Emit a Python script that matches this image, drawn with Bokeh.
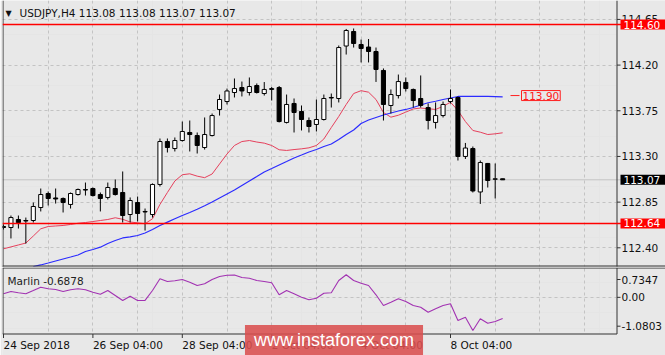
from bokeh.plotting import figure
from bokeh.layouts import column
from bokeh.models import (FixedTicker, Label, Span, Range1d, ColumnDataSource, Grid,
                          BoxAnnotation)
from bokeh.core.properties import value
from bokeh.embed import file_html
from bokeh.resources import INLINE

# ---------------- data ----------------
symbol = "USDJPY,H4"
header_ohlc = [113.08, 113.08, 113.07, 113.07]

opens = [112.610, 112.600, 112.679, 112.669, 112.669, 112.797, 112.935, 112.891, 112.886, 112.827,
         112.925, 112.974, 112.984, 112.925, 112.896, 112.984, 112.945, 112.728, 112.846, 112.758,
         112.728, 113.024, 113.447, 113.378, 113.457, 113.536, 113.506, 113.388, 113.506, 113.763,
         113.841, 113.930, 113.979, 113.930, 113.999, 113.920, 113.960, 113.979, 113.635, 113.822,
         113.743, 113.654, 113.615, 113.664, 113.881, 113.871, 114.388, 114.531, 114.403, 114.378,
         114.334, 114.147, 113.802, 113.900, 114.029, 113.960, 113.871, 113.782, 113.635, 113.703,
         113.841, 113.881, 113.300, 113.378, 112.950, 113.231, 113.075, 113.080]
highs = [112.630, 112.718, 112.718, 112.698, 112.846, 112.984, 112.955, 112.984, 112.896, 112.945,
         112.984, 113.043, 112.994, 112.945, 113.043, 113.073, 113.152, 112.896, 112.905, 112.787,
         113.034, 113.477, 113.477, 113.487, 113.644, 113.654, 113.536, 113.684, 113.723, 113.910,
         113.969, 114.068, 114.038, 114.078, 114.019, 114.033, 113.984, 113.994, 113.910, 113.871,
         113.802, 113.684, 113.861, 113.910, 113.920, 114.393, 114.556, 114.561, 114.452, 114.457,
         114.373, 114.167, 113.960, 114.107, 114.078, 113.969, 114.098, 113.822, 113.832, 113.841,
         113.960, 113.891, 113.433, 113.398, 113.260, 113.236, 113.231, 113.080]
lows = [112.580, 112.492, 112.590, 112.442, 112.649, 112.758, 112.817, 112.836, 112.748, 112.787,
        112.915, 112.915, 112.905, 112.758, 112.876, 112.915, 112.649, 112.649, 112.659, 112.570,
        112.698, 113.004, 113.339, 113.349, 113.447, 113.349, 113.329, 113.368, 113.497, 113.703,
        113.812, 113.881, 113.891, 113.900, 113.920, 113.900, 113.851, 113.635, 113.625, 113.536,
        113.556, 113.536, 113.546, 113.654, 113.782, 113.832, 114.304, 114.373, 114.226, 114.226,
        114.034, 113.654, 113.723, 113.871, 113.940, 113.782, 113.782, 113.566, 113.575, 113.684,
        113.822, 113.260, 113.275, 112.945, 112.832, 112.994, 112.886, 113.070]
closes = [112.600, 112.698, 112.649, 112.664, 112.807, 112.925, 112.886, 112.881, 112.846, 112.935,
          112.974, 112.969, 112.915, 112.886, 112.994, 112.925, 112.718, 112.866, 112.738, 112.753,
          113.024, 113.447, 113.388, 113.457, 113.546, 113.516, 113.408, 113.516, 113.703, 113.861,
          113.945, 113.969, 113.945, 113.989, 113.930, 113.960, 113.969, 113.644, 113.812, 113.733,
          113.664, 113.595, 113.664, 113.871, 113.876, 114.373, 114.541, 114.413, 114.364, 114.334,
          114.157, 113.812, 113.910, 114.038, 113.969, 113.851, 113.802, 113.654, 113.703, 113.812,
          113.871, 113.300, 113.383, 112.960, 113.240, 113.063, 113.080, 113.070]

ma_fast = [112.390, 112.409, 112.428, 112.447, 112.516, 112.587, 112.610, 112.615, 112.620, 112.630,
           112.642, 112.649, 112.659, 112.669, 112.679, 112.696, 112.681, 112.654, 112.646, 112.637,
           112.686, 112.827, 112.945, 113.058, 113.120, 113.129, 113.106, 113.091, 113.127, 113.226,
           113.324, 113.408, 113.447, 113.457, 113.442, 113.431, 113.408, 113.366, 113.359, 113.368,
           113.375, 113.385, 113.408, 113.472, 113.585, 113.694, 113.812, 113.920, 113.948, 113.933,
           113.861, 113.733, 113.687, 113.706, 113.737, 113.768, 113.777, 113.770, 113.763, 113.794,
           113.834, 113.753, 113.644, 113.556, 113.539, 113.516, 113.523, 113.533]
ma_slow_start = 4
ma_slow = [112.216, 112.231, 112.250, 112.270, 112.290, 112.309,
           112.329, 112.364, 112.383, 112.406, 112.442, 112.472, 112.497, 112.508, 112.521, 112.546,
           112.580, 112.620, 112.653, 112.686, 112.718, 112.748, 112.780, 112.814, 112.851, 112.891,
           112.930, 112.969, 113.014, 113.058, 113.102, 113.147, 113.181, 113.216, 113.250, 113.285,
           113.314, 113.344, 113.368, 113.398, 113.423, 113.467, 113.516, 113.561, 113.625, 113.659,
           113.684, 113.708, 113.728, 113.748, 113.763, 113.782, 113.807, 113.829, 113.844, 113.861,
           113.876, 113.891, 113.891, 113.891, 113.891, 113.891, 113.889, 113.886]

marlin = [0.116, 0.190, 0.148, 0.116, 0.223, 0.331, 0.279, 0.256, 0.190, 0.246,
          0.279, 0.246, 0.168, 0.103, 0.223, 0.060, -0.103, 0.037, -0.103, -0.098,
          0.223, 0.604, 0.516, 0.539, 0.582, 0.494, 0.386, 0.441, 0.582, 0.679,
          0.720, 0.728, 0.647, 0.624, 0.549, 0.516, 0.474, 0.083, 0.223, 0.116,
          0.005, -0.080, -0.028, 0.135, 0.148, 0.549, 0.7347, 0.549, 0.461, 0.386,
          0.083, -0.266, -0.158, -0.047, -0.135, -0.266, -0.321, -0.484, -0.373, -0.266,
          -0.210, -0.754, -0.647, -1.0803, -0.699, -0.842, -0.787, -0.6878]

price_ticks = [112.40, 112.85, 113.30, 113.75, 114.20, 114.65]
levels = [114.60, 112.64]
current_price = 113.07
target_price = 113.90
marlin_tick_labels = ["0.7347", "0.00", "-1.0803"]
time_labels = ["24 Sep 2018", "26 Sep 04:00", "28 Sep 04:00", "2 Oct 04:00", "4 Oct 04:00", "8 Oct 04:00"]
time_label_bars = [0, 12, 24, 36, 48, 60]
grid_bars = list(range(6, 82, 6))

# ---------------- geometry helpers (pixel -> data) ----------------
BG = "#e8e8e8"
GRID = "#c3c3c3"
AX = "#333333"
FONT = "DejaVu Sans"
FS = "10.5px"
BAR_PX = 7.45
X0_PX = 3.0


def px2x(px):
    return (px - X0_PX) / BAR_PX


PPX = 0.009852


def py2p(py):
    return 114.60 - (py - 24) * PPX


MPX = 0.032585


def py2m(py):
    return 0.7347 - (py - 274.3) * MPX


XR = Range1d(px2x(2), px2x(665))
AXIS_X = px2x(616.5)
n = len(opens)
xs = list(range(n))


def base_fig(h, yr):
    return figure(width=665, height=h, x_range=XR, y_range=yr,
                  x_axis_location=None, y_axis_location=None, toolbar_location=None,
                  output_backend="svg", background_fill_color=BG, border_fill_color=BG,
                  min_border_left=2, min_border_right=0, min_border_top=0, min_border_bottom=0,
                  outline_line_color=None)


def txt(p, x, y, t, color="#111111", align="left", size=FS):
    p.text(x=x, y=y, text=t, text_font=value(FONT), text_font_size=value(size),
           text_color=color, text_align=align, text_baseline="middle")


# ---------------- main price panel ----------------
p1 = base_fig(267, Range1d(py2p(267), py2p(0)))
p1.add_layout(Grid(dimension=0, ticker=FixedTicker(ticks=grid_bars), grid_line_color=GRID,
                   grid_line_dash="3 3"))
p1.add_layout(Grid(dimension=1, ticker=FixedTicker(ticks=price_ticks), grid_line_color=GRID,
                   grid_line_dash="3 3"))
p1.add_layout(BoxAnnotation(left=px2x(616), fill_color=BG, fill_alpha=1, line_alpha=0,
                            level="underlay"))
p1.add_layout(Span(location=current_price, dimension="width", line_color="#c4c4c4",
                   line_width=1, level="underlay"))

src = ColumnDataSource(dict(
    x=xs, o=opens, h=highs, l=lows, c=closes,
    top=[max(a, b) for a, b in zip(opens, closes)],
    bottom=[min(a, b) for a, b in zip(opens, closes)],
    fill=["white" if c >= o else "black" for o, c in zip(opens, closes)],
))
p1.line(xs, ma_fast, line_color="#e5405c", line_width=1)
slow_x = list(range(ma_slow_start, ma_slow_start + len(ma_slow)))
p1.line(slow_x, ma_slow, line_color="#2b2bff", line_width=1.2)
p1.segment(x0="x", y0="l", x1="x", y1="h", line_color="black", line_width=1, source=src)
p1.vbar(x="x", width=0.55, top="top", bottom="bottom", fill_color="fill",
        line_color="black", line_width=1, source=src)

# frame lines and right price scale
p1.add_layout(Span(location=px2x(2.5), dimension="height", line_color=AX, line_width=1))
p1.add_layout(Span(location=AXIS_X, dimension="height", line_color=AX, line_width=1))
p1.add_layout(Span(location=py2p(265.5), dimension="width", line_color=AX, line_width=1))
p1.add_layout(Span(location=py2p(266.5), dimension="width", line_color="#8a8a8a", line_width=1))
p1.segment(x0=[AXIS_X] * len(price_ticks), x1=[px2x(620)] * len(price_ticks),
           y0=price_ticks, y1=price_ticks, line_color=AX, line_width=1)
txt(p1, [px2x(621)] * len(price_ticks), price_ticks, [f"{t:.2f}" for t in price_ticks])

for lv in levels:
    p1.add_layout(Span(location=lv, dimension="width", line_color="#ff0000", line_width=1.5))

# target price label inside the chart
p1.segment(x0=[px2x(510)], y0=[target_price], x1=[px2x(519)], y1=[target_price],
           line_color="#ff2020", line_width=1)
p1.add_layout(Label(x=px2x(521), y=target_price, text=f"{target_price:.2f}",
                    text_color="#ff2020", text_font=FONT, text_font_size=FS,
                    text_align="left", text_baseline="middle",
                    border_line_color="#ff2020", background_fill_color=BG, padding=1))

# header
p1.add_layout(Label(x=px2x(5), y=py2p(12.5), text="\u25BC", text_font=FONT,
                    text_font_size="8px", text_color="#111111",
                    text_align="left", text_baseline="middle"))
p1.add_layout(Label(x=px2x(19), y=py2p(12),
                    text=symbol + "  " + " ".join(f"{v:.2f}" for v in header_ohlc),
                    text_font=FONT, text_font_size=FS, text_color="#111111",
                    text_align="left", text_baseline="middle"))

# price boxes on the scale
for val, bg in [(levels[0], "#ff0000"), (current_price, "#000000"), (levels[1], "#ff0000")]:
    p1.add_layout(Label(x=px2x(620), y=val, text=f"{val:.2f}", text_color="white",
                        text_font=FONT, text_font_size=FS, text_align="left",
                        text_baseline="middle", background_fill_color=bg,
                        padding=dict(left=3, right=9, top=1, bottom=1)))

# ---------------- Marlin panel + time scale ----------------
p2 = base_fig(88, Range1d(py2m(355), py2m(267)))
p2.add_layout(Grid(dimension=0, ticker=FixedTicker(ticks=grid_bars), grid_line_color=GRID,
                   grid_line_dash="3 3"))
p2.add_layout(Grid(dimension=1, ticker=FixedTicker(ticks=[0.0]), grid_line_color=GRID,
                   grid_line_dash="3 3"))
p2.add_layout(BoxAnnotation(left=px2x(616), fill_color=BG, fill_alpha=1, line_alpha=0,
                            level="underlay"))
p2.add_layout(BoxAnnotation(top=py2m(333), fill_color=BG, fill_alpha=1, line_alpha=0,
                            level="underlay"))

p2.line(xs, marlin, line_color="#a232b2", line_width=1.1)

top_y, bot_y = py2m(267.5), py2m(333.5)
p2.add_layout(Span(location=top_y, dimension="width", line_color=AX, line_width=1))
p2.segment(x0=[px2x(2.5), AXIS_X, px2x(2)], x1=[px2x(2.5), AXIS_X, AXIS_X],
           y0=[top_y, top_y, bot_y], y1=[bot_y, bot_y, bot_y], line_color=AX, line_width=1)

m_ticks = [py2m(279), 0.0, py2m(325.7)]
p2.segment(x0=[AXIS_X] * 3, x1=[px2x(620)] * 3, y0=m_ticks, y1=m_ticks,
           line_color=AX, line_width=1)
txt(p2, [px2x(621)] * 3, m_ticks, marlin_tick_labels)

p2.segment(x0=time_label_bars, x1=time_label_bars, y0=[bot_y] * len(time_label_bars),
           y1=[py2m(337.5)] * len(time_label_bars), line_color=AX, line_width=1)
txt(p2, time_label_bars, [py2m(344)] * len(time_labels), time_labels)

p2.add_layout(Label(x=px2x(7), y=py2m(280), text="Marlin " + f"{marlin[-1]:.4f}",
                    text_font=FONT, text_font_size=FS, text_color="#222222",
                    text_align="left", text_baseline="middle"))

# watermark
p2.add_layout(Label(x=px2x(333.5), y=py2m(339.5), text="www.instaforex.com",
                    text_font="Liberation Sans", text_font_size="18px", text_color="white",
                    text_align="center", text_baseline="middle",
                    background_fill_color="#d94f4f", background_fill_alpha=0.88,
                    padding=dict(left=9, right=9, top=5, bottom=5)))

layout = column(p1, p2, spacing=0)
open("out.html", "w").write(file_html(layout, INLINE))
